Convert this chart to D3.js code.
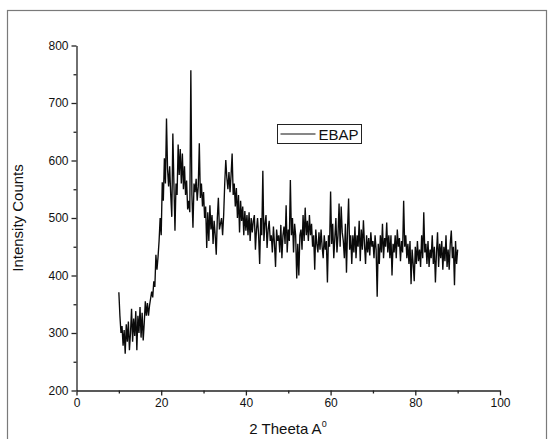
<!DOCTYPE html>
<html>
<head>
<meta charset="utf-8">
<script src="https://cdn.jsdelivr.net/npm/d3@7"></script>
<style>
  body { margin: 0; background: #fff; }
  svg { display: block; font-family: Arial, "Liberation Sans", sans-serif; }
</style>
</head>
<body>
<svg width="548" height="439"></svg>
<script>
// scan settings: 2 theta from 10 to 90, one reading every 0.25 deg
var thetaStart = 10;
var thetaStep = 0.25;

// intensity counts (4 readings per degree)
var counts = [
  371, 330, 300, 312,   // 10
  278, 305, 264, 315,   // 11
  285, 320, 270, 300,   // 12
  342, 285, 325, 295,   // 13
  338, 270, 330, 300,   // 14
  345, 292, 335, 287,   // 15
  318, 355, 330, 352,   // 16
  330, 348, 360, 372,   // 17
  362, 390, 380, 436,   // 18
  410, 432, 460, 500,   // 19
  470, 562, 530, 604,   // 20
  560, 673, 585, 555,   // 21
  590, 540, 502, 647,   // 22
  560, 478, 560, 540,   // 23
  628, 575, 620, 560,   // 24
  612, 550, 590, 540,   // 25
  565, 515, 530, 510,   // 26
  757, 540, 483, 560,   // 27
  545, 568, 530, 555,   // 28
  630, 535, 560, 520,   // 29
  545, 500, 520, 448,   // 30
  510, 460, 522, 480,   // 31
  505, 455, 495, 470,   // 32
  436, 500, 535, 480,   // 33
  490, 500, 470, 505,   // 34
  560, 601, 570, 550,   // 35
  580, 545, 575, 612,   // 36
  540, 560, 520, 552,   // 37
  500, 540, 475, 530,   // 38
  495, 520, 470, 512,   // 39
  478, 505, 470, 510,   // 40
  460, 500, 475, 495,   // 41
  505, 445, 480, 500,   // 42
  470, 420, 500, 470,   // 43
  582, 460, 490, 505,   // 44
  448, 480, 495, 460,   // 45
  470, 440, 485, 455,   // 46
  415, 480, 460, 470,   // 47
  440, 488, 430, 470,   // 48
  485, 455, 522, 440,   // 49
  480, 460, 566, 470,   // 50
  500, 440, 490, 470,   // 51
  395, 455, 400, 470,   // 52
  480, 445, 505, 460,   // 53
  518, 470, 495, 460,   // 54
  505, 470, 490, 450,   // 55
  470, 410, 480, 455,   // 56
  440, 475, 445, 480,   // 57
  450, 430, 470, 445,   // 58
  460, 388, 470, 450,   // 59
  546, 455, 490, 430,   // 60
  465, 500, 440, 470,   // 61
  525, 450, 520, 475,   // 62
  460, 430, 490, 405,   // 63
  480, 534, 445, 470,   // 64
  420, 470, 440, 485,   // 65
  430, 470, 450, 495,   // 66
  425, 480, 445, 496,   // 67
  455, 420, 470, 440,   // 68
  465, 435, 475, 450,   // 69
  460, 430, 470, 445,   // 70
  363, 455, 420, 470,   // 71
  440, 490, 430, 465,   // 72
  450, 492, 440, 470,   // 73
  430, 470, 400, 455,   // 74
  440, 470, 430, 480,   // 75
  450, 465, 425, 460,   // 76
  440, 530, 450, 470,   // 77
  430, 455, 420, 460,   // 78
  385, 445, 420, 390,   // 79
  450, 420, 460, 425,   // 80
  445, 415, 470, 430,   // 81
  510, 440, 455, 420,   // 82
  460, 415, 445, 430,   // 83
  470, 420, 450, 388,   // 84
  440, 475, 415, 455,   // 85
  430, 460, 410, 450,   // 86
  425, 470, 415, 445,   // 87
  410, 455, 478, 430,   // 88
  450, 383, 460, 420,   // 89
  445                   // 90
];

var xTicks = [0, 20, 40, 60, 80, 100];
var xMinor = [10, 30, 50, 70, 90];
var yTicks = [200, 300, 400, 500, 600, 700, 800];
var yMinor = [250, 350, 450, 550, 650, 750];
var seriesName = 'EBAP';

var svg = d3.select('svg');

// outer frame
svg.append('rect')
  .attr('x', 7.5)
  .attr('y', 10.5)
  .attr('width', 539)
  .attr('height', 440)
  .attr('fill', 'none')
  .attr('stroke', '#7a7a7a')
  .attr('stroke-width', 1.2);

var x = d3.scaleLinear().domain([0, 100]).range([76.5, 500]);
var y = d3.scaleLinear().domain([200, 800]).range([390.5, 45.5]);

var points = counts.map(function(c, i) {
  return { t: thetaStart + i * thetaStep, c: c };
});

// major + minor ticks
svg.append('g')
  .attr('transform', 'translate(0,390.5)')
  .call(d3.axisBottom(x).tickValues(xTicks).tickSize(5).tickPadding(3).tickSizeOuter(0));
svg.append('g')
  .attr('transform', 'translate(0,390.5)')
  .call(d3.axisBottom(x).tickValues(xMinor).tickSize(3).tickFormat('').tickSizeOuter(0))
  .select('.domain').remove();

svg.append('g')
  .attr('transform', 'translate(76.5,0)')
  .call(d3.axisLeft(y).tickValues(yTicks).tickSize(5).tickPadding(3).tickSizeOuter(0));
svg.append('g')
  .attr('transform', 'translate(76.5,0)')
  .call(d3.axisLeft(y).tickValues(yMinor).tickSize(3).tickFormat('').tickSizeOuter(0))
  .select('.domain').remove();

svg.selectAll('.tick text')
  .attr('font-size', 12)
  .attr('font-family', 'Arial, "Liberation Sans", sans-serif')
  .attr('fill', '#111');
svg.selectAll('.domain, .tick line')
  .attr('stroke', '#222')
  .attr('stroke-width', 1.3);

// the scan
var line = d3.line()
  .x(function(d) { return x(d.t); })
  .y(function(d) { return y(d.c); });

svg.append('path')
  .datum(points)
  .attr('d', line)
  .attr('fill', 'none')
  .attr('stroke', '#0a0a0a')
  .attr('stroke-width', 1.35)
  .attr('stroke-linejoin', 'miter');

// axis titles
var xTitle = svg.append('text')
  .attr('x', 288)
  .attr('y', 434)
  .attr('text-anchor', 'middle')
  .attr('font-size', 15)
  .attr('fill', '#111')
  .text('2 Theeta A');
xTitle.append('tspan')
  .attr('dy', -7)
  .attr('font-size', 9)
  .text('0');

svg.append('text')
  .attr('transform', 'translate(23,218) rotate(-90)')
  .attr('text-anchor', 'middle')
  .attr('font-size', 15)
  .attr('fill', '#111')
  .text('Intensity Counts');

// legend
var legend = svg.append('g').attr('transform', 'translate(277.5,124.5)');
legend.append('rect')
  .attr('width', 84)
  .attr('height', 19)
  .attr('fill', '#fff')
  .attr('stroke', '#222')
  .attr('stroke-width', 1);
legend.append('line')
  .attr('x1', 3).attr('x2', 38)
  .attr('y1', 9.5).attr('y2', 9.5)
  .attr('stroke', '#111')
  .attr('stroke-width', 1.1);
legend.append('text')
  .attr('x', 41)
  .attr('y', 15)
  .attr('font-size', 15)
  .attr('fill', '#111')
  .text(seriesName);
</script>
</body>
</html>
